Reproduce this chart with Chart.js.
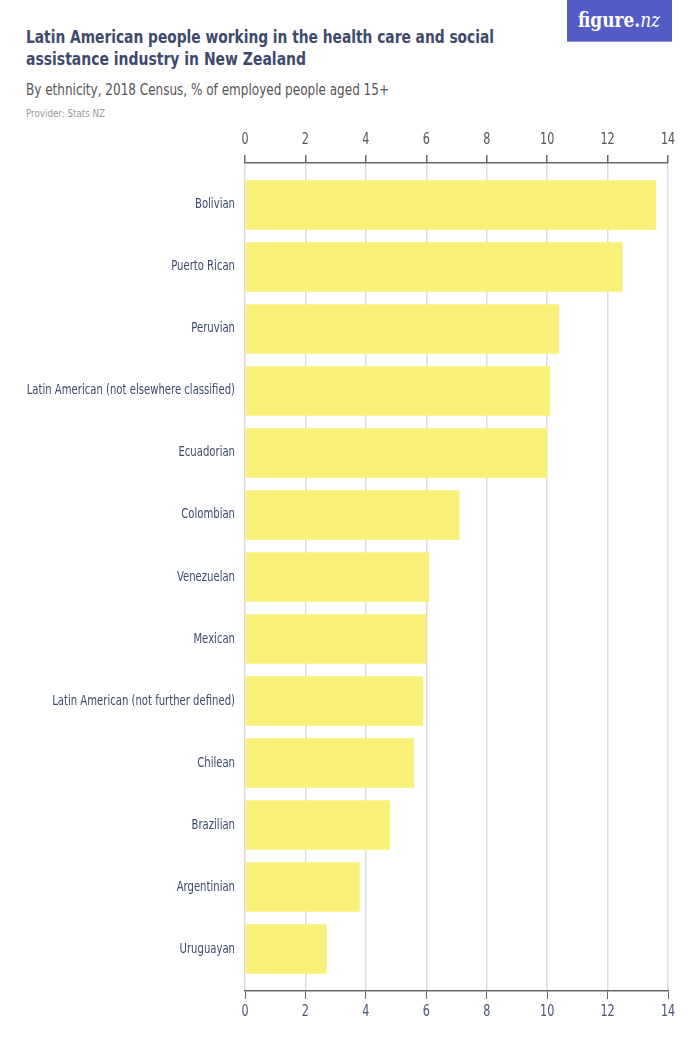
<!DOCTYPE html>
<html>
<head>
<meta charset="utf-8">
<script src="https://cdn.jsdelivr.net/npm/chart.js@4"></script>
<style>
  html, body { margin: 0; padding: 0; background: #fff; }
  #wrap { position: relative; width: 700px; height: 1050px; overflow: hidden; }
  .t { position: absolute; left: 26px; white-space: nowrap; font-family: "DejaVu Sans Condensed", sans-serif; line-height: 1; transform-origin: 0 0; }
  .title { font-weight: bold; font-size: 18.5px; color: #3e4a6b; }
  #sub { top: 81.5px; font-size: 16px; color: #555; }
  #prov { top: 107.8px; font-size: 10.5px; color: #999; }
  #logo { position: absolute; left: 567px; top: 0; width: 105px; height: 42px; background: #535bc4; border-bottom: 1px solid #8a90d8; box-sizing: border-box; }
  #logotext { position: absolute; left: 11px; top: 10px; color: #fff; font-family: "DejaVu Serif", serif; font-weight: bold; font-size: 20px; line-height: 1; white-space: nowrap; transform-origin: 0 0; }
  #logotext i { font-weight: normal; }
  canvas { position: absolute; left: 0; top: 0; }
</style>
</head>
<body>
<div id="wrap">
  <div class="t title" id="t1" style="top:27.7px" data-w="468">Latin American people working in the health care and social</div>
  <div class="t title" id="t2" style="top:49.9px" data-w="280">assistance industry in New Zealand</div>
  <div class="t" id="sub" data-w="363">By ethnicity, 2018 Census, % of employed people aged 15+</div>
  <div class="t" id="prov" data-w="79">Provider: Stats NZ</div>
  <div id="logo"><div id="logotext" data-w="82">figure.<i>nz</i></div></div>
  <canvas id="c" width="700" height="1050"></canvas>
</div>
<script>
const categories = [
  "Bolivian", "Puerto Rican", "Peruvian", "Latin American (not elsewhere classified)",
  "Ecuadorian", "Colombian", "Venezuelan", "Mexican",
  "Latin American (not further defined)", "Chilean", "Brazilian", "Argentinian", "Uruguayan"
];
const values = [13.6, 12.5, 10.4, 10.1, 10.0, 7.1, 6.1, 6.0, 5.9, 5.6, 4.8, 3.8, 2.7];
const xTicks = [0, 2, 4, 6, 8, 10, 12, 14];

// Condense HTML text lines horizontally to match the reference's narrow typeface
document.querySelectorAll('[data-w]').forEach(el => {
  const w = el.getBoundingClientRect().width;
  const target = parseFloat(el.dataset.w);
  el.style.transform = 'scaleX(' + (target / w) + ')';
});

const FONT = "'DejaVu Sans Condensed', sans-serif";
const PAD = 0.177;
const SX = 0.83;

const condensePlugin = {
  id: 'condense',
  beforeInit(chart) {
    const ctx = chart.ctx;
    const orig = ctx.fillText.bind(ctx);
    ctx.fillText = function (text, x, y, maxW) {
      ctx.save();
      ctx.translate(x, y);
      ctx.scale(SX, 1);
      if (maxW !== undefined) orig(text, 0, 0, maxW / SX); else orig(text, 0, 0);
      ctx.restore();
    };
  }
};

new Chart(document.getElementById('c'), {
  type: 'bar',
  data: {
    labels: categories,
    datasets: [{
      data: values,
      backgroundColor: '#f9f07a',
      borderWidth: 0,
      barPercentage: 0.8,
      categoryPercentage: 1.0
    }]
  },
  plugins: [condensePlugin],
  options: {
    indexAxis: 'y',
    responsive: false,
    animation: false,
    layout: { padding: { left: 0, right: 32, top: 0, bottom: 0 } },
    plugins: { legend: { display: false }, tooltip: { enabled: false } },
    scales: {
      y: {
        type: 'category',
        offset: true,
        afterBuildTicks: (s) => { s._startValue -= PAD; s._valueRange += 2 * PAD; },
        afterFit: (s) => { s.width = 245; },
        grid: { display: false, drawTicks: false },
        border: { display: false },
        ticks: { color: '#3e4a6b', font: { family: FONT, size: 13.5 }, padding: 10, autoSkip: false }
      },
      x: {
        type: 'linear',
        position: 'top',
        min: 0, max: 14,
        afterBuildTicks: (s) => { s.ticks = xTicks.map(v => ({ value: v })); },
        afterFit: (s) => { s.height = 163; },
        grid: { color: '#dddddd', lineWidth: 1.5, drawTicks: true, tickLength: 8, tickColor: '#666' },
        border: { display: true, color: '#666', width: 1.5 },
        ticks: { color: '#555', font: { family: FONT, size: 15 }, padding: 6 }
      },
      x2: {
        type: 'linear',
        position: 'bottom',
        axis: 'x',
        min: 0, max: 14,
        afterBuildTicks: (s) => { s.ticks = xTicks.map(v => ({ value: v })); },
        afterFit: (s) => { s.height = 59; },
        grid: { display: true, drawOnChartArea: false, drawTicks: true, tickLength: 8, tickColor: '#666' },
        border: { display: true, color: '#666', width: 1.5 },
        ticks: { color: '#4a5575', font: { family: FONT, size: 15 }, padding: 4 }
      }
    }
  }
});
</script>
</body>
</html>
